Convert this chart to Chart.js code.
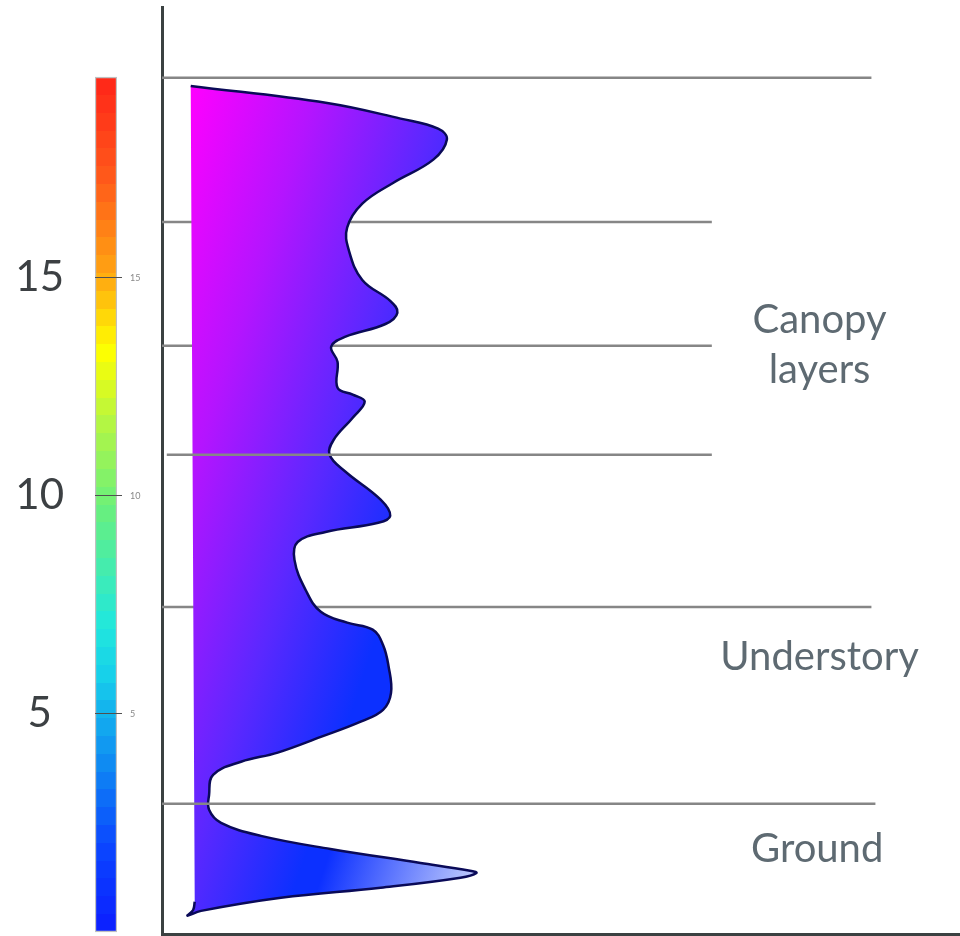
<!DOCTYPE html>
<html>
<head>
<meta charset="utf-8">
<script src="https://cdn.jsdelivr.net/npm/chart.js@4.4.1/dist/chart.umd.min.js"></script>
<style>
  body { margin: 0; background: #fff; }
  #wrap { position: relative; width: 960px; height: 936px; }
  #wrap canvas { position: absolute; top: 0; left: 0; }
</style>
</head>
<body>
<div id="wrap">
  <canvas id="scaleBar" width="160" height="936"></canvas>
  <canvas id="profile" width="960" height="936"></canvas>
</div>
<script>
// vertical profile, top to bottom: height and relative density
const profileHeight = [19.40, 19.01, 18.65, 18.42, 18.17, 17.71, 17.18, 16.70, 16.15, 15.64,
  14.95, 14.47, 14.20, 13.94, 13.65, 13.42, 13.07, 12.48, 12.32, 12.16,
  11.79, 11.28, 10.94, 10.55, 9.91, 9.54, 9.38, 9.17, 8.94, 8.53,
  7.84, 7.34, 7.09, 6.93, 6.58, 6.08, 5.48, 5.09, 4.82, 4.47,
  4.11, 3.90, 3.60, 3.14, 2.80, 2.50, 2.20, 1.90, 1.58, 1.40,
  1.35, 1.24, 1.01, 0.78, 0.48, 0.37, 0.50, 0.69];
const profileDensity = [0, 17.1, 26.3, 31.0, 32.1, 30.4, 25.4, 21.5, 19.6, 19.8,
  21.5, 25.0, 25.9, 24.4, 19.4, 17.6, 18.4, 18.4, 20.3, 21.8,
  20.3, 17.9, 17.4, 19.4, 23.8, 25.0, 23.5, 16.9, 13.4, 13.0,
  14.4, 16.3, 19.6, 22.8, 24.1, 24.8, 25.1, 24.1, 21.3, 16.3,
  10.9, 6.3, 2.8, 2.3, 2.3, 3.8, 8.8, 17.5, 28.8, 35.0,
  35.8, 33.8, 23.8, 11.3, 1.3, -0.4, 0.3, 0.5];

// layer boundaries
const layerHeight = [19.59, 16.28, 13.44, 10.94, 7.45, 2.94];
const layerFrom = [-3.6, -3.6, -3.6, -3.0, -3.6, -3.6];
const layerTo = [85.3, 65.3, 65.3, 65.3, 85.3, 85.8];
const layerOnTop = [false, false, false, true, false, true];

// zone names (baseline of first line)
const zoneNames = [['Canopy', 'layers'], ['Understory'], ['Ground']];
const zoneX = [78.8, 78.8, 78.5];
const zoneY = [13.74, 6.0, 1.61];

// colour scale
const scaleRange = [0, 19.6];
const scaleTicks = [5, 10, 15];

const Y_MIN = -0.05, Y_MAX = 21.21;
const FONT = "Lato, 'Open Sans', sans-serif";

// jet-like colours for the scale bar
const jetStops = [[0, '#0c1eff'], [0.1, '#0b46ff'], [0.2, '#0f8cf2'], [0.3, '#17d0ea'],
  [0.36, '#22e8dc'], [0.5, '#6cf07a'], [0.6, '#b8f640'], [0.68, '#ffff00'],
  [0.77, '#ffa512'], [0.88, '#ff5a1a'], [1, '#ff2418']];

function hexRgb(h) {
  return [1, 3, 5].map(i => parseInt(h.substr(i, 2), 16));
}
function jetAt(t) {
  for (let i = 1; i < jetStops.length; i++) {
    if (t <= jetStops[i][0]) {
      const [t0, c0] = jetStops[i - 1], [t1, c1] = jetStops[i];
      const f = (t - t0) / (t1 - t0);
      const a = hexRgb(c0), b = hexRgb(c1);
      return 'rgb(' + a.map((v, k) => Math.round(v + (b[k] - v) * f)).join(',') + ')';
    }
  }
  return jetStops[jetStops.length - 1][1];
}

function jetFill(context) {
  const chart = context.chart;
  if (!chart.chartArea) return '#6cf07a';
  const y = chart.scales.y;
  const g = chart.ctx.createLinearGradient(0, y.getPixelForValue(scaleRange[0]), 0, y.getPixelForValue(scaleRange[1]));
  const n = 48;
  for (let i = 0; i < n; i++) {
    const col = jetAt((i + 0.5) / n);
    g.addColorStop(i / n, col);
    g.addColorStop((i + 1) / n, col);
  }
  return g;
}

let fillCache = null;
function profileFill(context) {
  const chart = context.chart;
  if (!chart.chartArea) return '#8020ff';
  if (fillCache) return fillCache;
  const x = chart.scales.x, y = chart.scales.y;
  const off = document.createElement('canvas');
  off.width = chart.width;
  off.height = chart.height;
  const c = off.getContext('2d');
  const g = c.createLinearGradient(x.getPixelForValue(0), y.getPixelForValue(19.4),
    x.getPixelForValue(41.3), y.getPixelForValue(16.95));
  g.addColorStop(0, '#ff00ff');
  g.addColorStop(0.35, '#b414ff');
  g.addColorStop(0.7, '#5a28ff');
  g.addColorStop(1, '#0c30ff');
  c.fillStyle = g;
  c.fillRect(0, 0, off.width, off.height);
  // pale fade towards the tip of the ground peak
  const w = c.createLinearGradient(x.getPixelForValue(17.5), y.getPixelForValue(1.88),
    x.getPixelForValue(35.8), y.getPixelForValue(0.76));
  w.addColorStop(0, 'rgba(235,240,252,0)');
  w.addColorStop(1, 'rgba(235,240,252,0.85)');
  c.fillStyle = w;
  const top = y.getPixelForValue(2.3);
  c.fillRect(0, top, off.width, off.height - top);
  fillCache = chart.ctx.createPattern(off, 'no-repeat');
  return fillCache;
}

// colour scale bar
new Chart(document.getElementById('scaleBar'), {
  type: 'bar',
  data: {
    labels: ['height'],
    datasets: [{
      data: [scaleRange],
      backgroundColor: jetFill,
      borderColor: 'rgba(150,150,150,0.6)',
      borderWidth: 1.5,
      borderSkipped: false,
      barPercentage: 1,
      categoryPercentage: 1
    }]
  },
  options: {
    responsive: false,
    animation: false,
    devicePixelRatio: 1,
    layout: { padding: { top: 7, bottom: 2, left: 0, right: 0 } },
    plugins: { legend: { display: false }, tooltip: { enabled: false } },
    scales: {
      x: { display: false },
      y: {
        type: 'linear',
        position: 'left',
        min: Y_MIN,
        max: Y_MAX,
        afterBuildTicks: s => { s.ticks = scaleTicks.map(v => ({ value: v })); },
        afterFit: s => { s.width = 95; s.paddingTop = 0; s.paddingBottom = 0; },
        grid: { display: false, drawTicks: false },
        border: { display: false },
        ticks: { crossAlign: 'center', padding: 31, color: '#3c4043', font: { family: FONT, size: 42 } }
      },
      y2: {
        type: 'linear',
        position: 'right',
        min: Y_MIN,
        max: Y_MAX,
        afterBuildTicks: s => { s.ticks = scaleTicks.map(v => ({ value: v })); },
        afterFit: s => { s.width = 43; s.paddingTop = 0; s.paddingBottom = 0; },
        grid: { z: 1, color: '#505050', lineWidth: 1, tickLength: 5, drawOnChartArea: true },
        border: { display: false },
        ticks: { padding: 8, color: '#888', font: { family: FONT, size: 9 } }
      }
    }
  }
});

// zone labels on the right
const zoneLabels = {
  id: 'zoneLabels',
  afterDatasetsDraw(chart) {
    const { ctx, scales: { x, y } } = chart;
    ctx.save();
    ctx.font = '40px ' + FONT;
    ctx.fillStyle = '#5e6a72';
    ctx.textAlign = 'center';
    ctx.textBaseline = 'alphabetic';
    zoneNames.forEach((lines, i) => {
      const cx = x.getPixelForValue(zoneX[i]);
      const cy = y.getPixelForValue(zoneY[i]);
      lines.forEach((t, j) => ctx.fillText(t, cx, cy + j * 50));
    });
    ctx.restore();
  }
};

const datasets = [{
  data: profileHeight.map((h, i) => ({ x: profileDensity[i], y: h })),
  fill: 'shape',
  backgroundColor: profileFill,
  borderColor: '#0a0a58',
  borderWidth: 2.5,
  tension: 0.4,
  pointRadius: 0,
  order: 1
}];
layerHeight.forEach((h, i) => {
  datasets.push({
    data: [{ x: layerFrom[i], y: h }, { x: layerTo[i], y: h }],
    borderColor: '#868686',
    borderWidth: 2.5,
    pointRadius: 0,
    fill: false,
    order: layerOnTop[i] ? 0 : 2
  });
});

new Chart(document.getElementById('profile'), {
  type: 'line',
  data: { datasets: datasets },
  options: {
    responsive: false,
    animation: false,
    devicePixelRatio: 1,
    layout: { padding: { left: 162, top: 7, right: 0, bottom: 2 } },
    plugins: { legend: { display: false }, tooltip: { enabled: false } },
    scales: {
      x: {
        type: 'linear',
        min: -3.6,
        max: 96.4,
        ticks: { display: false },
        grid: { display: false, drawTicks: false },
        border: { display: true, color: '#3b4141', width: 3 }
      },
      y: {
        type: 'linear',
        min: Y_MIN,
        max: Y_MAX,
        ticks: { display: false },
        grid: { display: false, drawTicks: false },
        border: { display: true, color: '#3b4141', width: 3 }
      }
    }
  },
  plugins: [zoneLabels]
});
</script>
</body>
</html>
